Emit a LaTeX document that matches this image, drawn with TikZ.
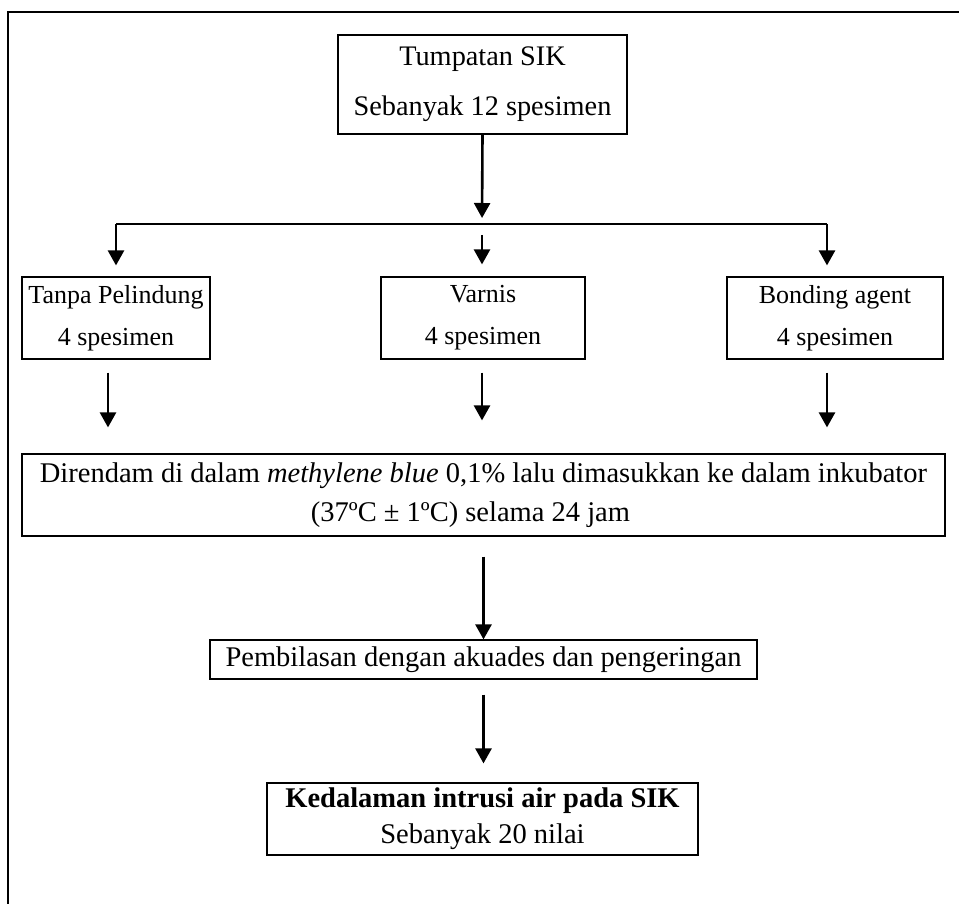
\documentclass[tikz,border=0pt]{standalone}
\usepackage{fontspec}
\setmainfont{Liberation Serif}
\usetikzlibrary{positioning,arrows.meta,calc}

\begin{document}
\begin{tikzpicture}[
    x=1pt, y=-1pt,
    box/.style={rectangle, draw, line width=1.2pt, align=center, inner sep=0pt},
    flow/.style={line width=2.6pt, -{Triangle[width=16pt,length=15pt]}},
    branch/.style={line width=1.4pt}
  ]
  \useasboundingbox (0,0) rectangle (959,904);

  % Frame
  \draw[line width=2.2pt] (8,904) -- (8,12) -- (959,12);

  % Boxes
  \node[box, minimum width=289pt, minimum height=99pt, font=\fontsize{28.3pt}{50pt}\selectfont] (tumpatan) at (482.5,84.5) {Tumpatan SIK\\Sebanyak 12 spesimen};
  \node[box, minimum width=188pt, minimum height=82pt, font=\fontsize{26pt}{42pt}\selectfont] (tanpa) at (116,318) {Tanpa Pelindung\\4 spesimen};
  \node[box, minimum width=204pt, minimum height=82pt, font=\fontsize{26pt}{42pt}\selectfont] (varnis) at (483,318) {Varnis\\4 spesimen};
  \node[box, minimum width=216pt, minimum height=82pt, font=\fontsize{26pt}{42pt}\selectfont] (bonding) at (835,318) {Bonding agent\\4 spesimen};
  \node[box, minimum width=923pt, minimum height=82pt, font=\fontsize{28.5pt}{39pt}\selectfont] (rendam) at (483.5,495) {Direndam di dalam \textit{methylene blue} 0,1\% lalu dimasukkan ke dalam inkubator\\(37ºC ± 1ºC) selama 24 jam\hspace*{26pt}};
  \node[box, minimum width=547pt, minimum height=39pt, font=\fontsize{28.5pt}{36pt}\selectfont] (bilas) at (483.5,659.5) {Pembilasan dengan akuades dan pengeringan};
  \node[box, minimum width=431pt, minimum height=72pt, font=\fontsize{28.5pt}{36pt}\selectfont] (hasil) at (482.5,819) {\textbf{Kedalaman intrusi air pada SIK}\\Sebanyak 20 nilai};

  % Branching
  \coordinate (cabang) at (482,224);
  \coordinate (cabangkiri) at (116,224);
  \coordinate (cabangkanan) at (827,224);
  \draw[flow, shorten >=6pt] (tumpatan.south) -- (cabang);
  \draw[branch] (cabangkiri) -- (cabangkanan);
  \draw[flow, shorten >=11pt] (cabangkiri) -- (tanpa.north);
  \draw[flow, shorten <=11pt, shorten >=12pt] (cabang) -- (cabang |- varnis.north);
  \draw[flow, shorten >=11pt] (cabangkanan) -- (cabangkanan |- bonding.north);

  % Into the soaking step
  \coordinate (turunkiri) at ($(tanpa.south)+(-8,0)$);
  \coordinate (turuntengah) at ($(varnis.south)+(-1,0)$);
  \coordinate (turunkanan) at ($(bonding.south)+(-8,0)$);
  \draw[flow, shorten <=13pt, shorten >=26pt] (turunkiri) -- (turunkiri |- rendam.north);
  \draw[flow, shorten <=13pt, shorten >=33pt] (turuntengah) -- (turuntengah |- rendam.north);
  \draw[flow, shorten <=13pt, shorten >=26pt] (turunkanan) -- (turunkanan |- rendam.north);

  % Rinsing and result
  \draw[flow, shorten <=20pt] (rendam.south) -- (rendam.south |- bilas.north);
  \draw[flow, shorten <=15pt, shorten >=19pt] (bilas.south) -- (bilas.south |- hasil.north);

\end{tikzpicture}
\end{document}
